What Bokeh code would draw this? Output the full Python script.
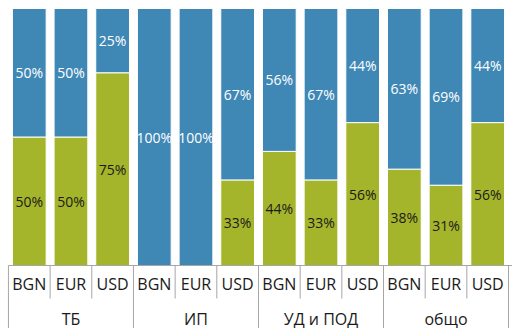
from bokeh.plotting import figure
from bokeh.models import Range1d, ColumnDataSource
from bokeh.core.properties import value
from bokeh.embed import file_html
from bokeh.resources import INLINE

groups = ["ТБ", "ИП", "УД и ПОД", "общо"]
currencies = ["BGN", "EUR", "USD"]
green_share = [0.50, 0.50, 0.75, 0.0, 0.0, 0.333, 0.444, 0.333, 0.556, 0.375, 0.3125, 0.556]
blue_share = [1 - g for g in green_share]

GREEN = "#a5b52b"
BLUE = "#3f88b6"
AXIS = "#a6a6a6"
FONT = value("Open Sans")

n = len(green_share)
xs = [i + 0.5 for i in range(n)]
fmt = lambda v: f"{int(v * 100 + 0.5)}%"

PX = 42.0
p = figure(width=512, height=328, output_backend="svg", toolbar_location=None,
           x_range=Range1d(-8 / PX, n + 4 / PX), y_range=Range1d(-63 / 257, 1 + 8 / 257),
           min_border=0, min_border_left=0, min_border_right=0,
           min_border_top=0, min_border_bottom=0)
p.axis.visible = False
p.grid.visible = False
p.outline_line_color = None

src = ColumnDataSource(dict(x=xs, g=green_share, b=blue_share,
                            gtop=green_share,
                            top=[g + b for g, b in zip(green_share, blue_share)]))
p.vbar(x="x", bottom=0, top="gtop", width=34 / PX, fill_color=GREEN,
       line_color="white", line_width=1, source=src)
p.vbar(x="x", bottom="gtop", top="top", width=34 / PX, fill_color=BLUE,
       line_color="white", line_width=1, source=src)

# value labels
gx = [x for x, g in zip(xs, green_share) if g > 0]
gy = [g / 2 for g in green_share if g > 0]
gt = [fmt(g) for g in green_share if g > 0]
p.text(x=gx, y=gy, text=gt, text_align="center", text_baseline="middle",
       text_font=FONT, text_font_size="14px", text_color="#1a1a1a")
bx = [x for x, b in zip(xs, blue_share) if b > 0]
by = [g + b / 2 for g, b in zip(green_share, blue_share) if b > 0]
bt = [fmt(b) for b in blue_share if b > 0]
p.text(x=bx, y=by, text=bt, text_align="center", text_baseline="middle",
       text_font=FONT, text_font_size="14px", text_color="white")

# category axis
p.segment(x0=[0], y0=[0], x1=[n + 1], y1=[0], line_color=AXIS, line_width=1)
sub_b = [i for i in range(n + 1) if i % 3 != 0]
p.segment(x0=sub_b, y0=[0] * len(sub_b), x1=sub_b, y1=[-33 / 257] * len(sub_b),
          line_color=AXIS, line_width=1)
grp_b = [i for i in range(n + 1) if i % 3 == 0]
p.segment(x0=grp_b, y0=[0] * len(grp_b), x1=grp_b, y1=[-1] * len(grp_b),
          line_color=AXIS, line_width=1)

cur_labels = [currencies[i % 3] for i in range(n)]
p.text(x=xs, y=[-18 / 257] * n, text=cur_labels, text_align="center",
       text_baseline="middle", text_font=FONT, text_font_size="16px", text_color="#1a1a1a")
gx2 = [3 * k + 1.5 for k in range(len(groups))]
p.text(x=gx2, y=[-53 / 257] * len(groups), text=groups, text_align="center",
       text_baseline="middle", text_font=FONT, text_font_size="16px", text_color="#1a1a1a")

open("out.html", "w").write(file_html(p, INLINE))
